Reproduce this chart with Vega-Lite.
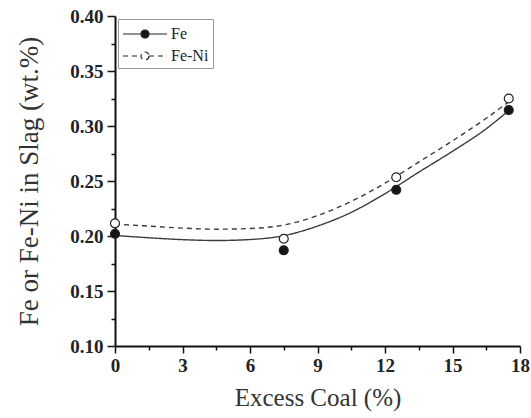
{
  "$schema": "https://vega.github.io/schema/vega-lite/v6.json",
  "width": 405,
  "height": 330,
  "autosize": {"type": "none"},
  "padding": {"left": 115, "top": 16, "right": 11, "bottom": 72},
  "background": "white",
  "config": {
    "view": {"stroke": null},
    "font": "Liberation Serif",
    "axis": {
      "domainColor": "#111",
      "domainWidth": 2,
      "tickColor": "#111",
      "tickWidth": 1.5,
      "labelFont": "Liberation Serif",
      "labelFontWeight": "bold",
      "labelFontSize": 19,
      "labelColor": "#222",
      "titleFont": "Liberation Serif",
      "titleFontWeight": "normal",
      "titleFontSize": 25,
      "titleColor": "#333",
      "grid": false
    },
    "legend": {
      "orient": "top-left",
      "offset": 3,
      "padding": 4,
      "strokeColor": "#999",
      "fillColor": "white",
      "symbolType": "M-1,0H0.8M1.6,0H3.4M1.6,0A0.4,0.4 0 1,1 0.8,0A0.4,0.4 0 1,1 1.6,0Z",
      "symbolSize": 400,
      "symbolStrokeColor": "#222",
      "symbolStrokeWidth": 1.2,
      "symbolOpacity": 1,
      "rowPadding": 3,
      "labelOffset": 27,
      "labelFont": "Liberation Serif",
      "labelFontSize": 16,
      "labelColor": "#222"
    }
  },
  "datasets": {
    "points": [
      {"coal": 0, "value": 0.202, "series": "Fe"},
      {"coal": 7.5, "value": 0.187, "series": "Fe"},
      {"coal": 12.5, "value": 0.242, "series": "Fe"},
      {"coal": 17.5, "value": 0.3145, "series": "Fe"},
      {"coal": 0, "value": 0.2115, "series": "Fe-Ni"},
      {"coal": 7.5, "value": 0.1975, "series": "Fe-Ni"},
      {"coal": 12.5, "value": 0.2534, "series": "Fe-Ni"},
      {"coal": 17.5, "value": 0.325, "series": "Fe-Ni"}
    ],
    "curves": [
      {"coal": 0, "value": 0.2005, "series": "Fe"},
      {"coal": 1.5, "value": 0.1984, "series": "Fe"},
      {"coal": 3, "value": 0.1967, "series": "Fe"},
      {"coal": 4.5, "value": 0.1959, "series": "Fe"},
      {"coal": 6, "value": 0.1968, "series": "Fe"},
      {"coal": 7.5, "value": 0.2003, "series": "Fe"},
      {"coal": 9, "value": 0.209, "series": "Fe"},
      {"coal": 10.5, "value": 0.2215, "series": "Fe"},
      {"coal": 12, "value": 0.2385, "series": "Fe"},
      {"coal": 13.5, "value": 0.258, "series": "Fe"},
      {"coal": 15, "value": 0.277, "series": "Fe"},
      {"coal": 16.5, "value": 0.2975, "series": "Fe"},
      {"coal": 17.5, "value": 0.314, "series": "Fe"},
      {"coal": 0, "value": 0.2108, "series": "Fe-Ni"},
      {"coal": 1.5, "value": 0.209, "series": "Fe-Ni"},
      {"coal": 3, "value": 0.2072, "series": "Fe-Ni"},
      {"coal": 4.5, "value": 0.2062, "series": "Fe-Ni"},
      {"coal": 6, "value": 0.2068, "series": "Fe-Ni"},
      {"coal": 7.5, "value": 0.21, "series": "Fe-Ni"},
      {"coal": 9, "value": 0.2185, "series": "Fe-Ni"},
      {"coal": 10.5, "value": 0.2315, "series": "Fe-Ni"},
      {"coal": 12, "value": 0.248, "series": "Fe-Ni"},
      {"coal": 13.5, "value": 0.2672, "series": "Fe-Ni"},
      {"coal": 15, "value": 0.2865, "series": "Fe-Ni"},
      {"coal": 16.5, "value": 0.307, "series": "Fe-Ni"},
      {"coal": 17.5, "value": 0.322, "series": "Fe-Ni"}
    ]
  },
  "encoding": {
    "x": {
      "field": "coal",
      "type": "quantitative",
      "scale": {"domain": [0, 18], "nice": false, "zero": false},
      "axis": {
        "title": "Excess Coal (%)",
        "values": [0, 1.5, 3, 4.5, 6, 7.5, 9, 10.5, 12, 13.5, 15, 16.5, 18],
        "labelExpr": "datum.value % 3 === 0 ? datum.label : ''",
        "tickSize": {"condition": {"test": "datum.value % 3 === 0", "value": 7}, "value": 4},
        "labelPadding": 3,
        "titlePadding": 10,
        "labelFlush": false
      }
    },
    "y": {
      "field": "value",
      "type": "quantitative",
      "scale": {"domain": [0.1, 0.4], "nice": false, "zero": false},
      "axis": {
        "title": "Fe or Fe-Ni in Slag (wt.%)",
        "titleFontSize": 27,
        "values": [0.1, 0.125, 0.15, 0.175, 0.2, 0.225, 0.25, 0.275, 0.3, 0.325, 0.35, 0.375, 0.4],
        "labelExpr": "round(datum.value * 1000) % 50 === 0 ? format(datum.value, '.2f') : ''",
        "tickSize": {"condition": {"test": "round(datum.value * 1000) % 50 === 0", "value": 8}, "value": 4},
        "labelPadding": 4,
        "titlePadding": 26,
        "labelFlush": false
      }
    }
  },
  "layer": [
    {
      "data": {"name": "curves"},
      "mark": {"type": "line", "interpolate": "monotone", "strokeWidth": 1.4, "color": "#3c3c3c"},
      "encoding": {
        "detail": {"field": "series"},
        "strokeDash": {
          "field": "series",
          "type": "nominal",
          "scale": {"domain": ["Fe", "Fe-Ni"], "range": [[1, 0], [5, 4]]},
          "legend": {"title": null}
        }
      }
    },
    {
      "data": {"name": "points"},
      "mark": {"type": "point", "size": 80, "stroke": "#222", "strokeWidth": 1.2, "opacity": 1},
      "encoding": {
        "fill": {
          "field": "series",
          "type": "nominal",
          "scale": {"domain": ["Fe", "Fe-Ni"], "range": ["#151515", "#ffffff"]},
          "legend": {"title": null}
        }
      }
    }
  ]
}
